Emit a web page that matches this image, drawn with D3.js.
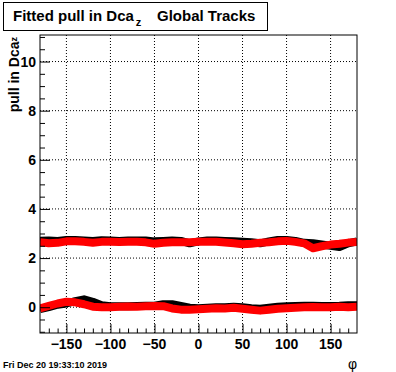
<!DOCTYPE html>
<meta charset="utf-8">
<body style="margin:0">
<script src="https://d3js.org/d3.v7.min.js"></script>
<script>

const phi = d3.range(-180, 181, 10);

const upperBlack = [2.70, 2.72, 2.70, 2.74, 2.74, 2.72, 2.70, 2.73, 2.72, 2.70, 2.72, 2.72, 2.72, 2.68, 2.70, 2.72, 2.70, 2.60, 2.68,
                    2.72, 2.72, 2.70, 2.68, 2.66, 2.64, 2.60, 2.68, 2.74, 2.74, 2.70, 2.62, 2.60, 2.55, 2.50, 2.45, 2.60, 2.68];
const upperRed   = [2.65, 2.60, 2.62, 2.68, 2.68, 2.66, 2.62, 2.66, 2.66, 2.65, 2.66, 2.66, 2.64, 2.58, 2.62, 2.64, 2.64, 2.64, 2.66,
                    2.66, 2.66, 2.63, 2.60, 2.56, 2.58, 2.62, 2.64, 2.68, 2.70, 2.66, 2.60, 2.40, 2.48, 2.55, 2.58, 2.63, 2.65];
const lowerBlack = [-0.08, 0.00, 0.10, 0.15, 0.25, 0.32, 0.22, 0.08, 0.04, 0.04, 0.04, 0.05, 0.06, 0.06, 0.12, 0.12, 0.05, -0.02, -0.04,
                    -0.02, 0.00, 0.00, 0.02, 0.00, -0.04, -0.06, -0.02, 0.02, 0.04, 0.05, 0.06, 0.06, 0.05, 0.05, 0.06, 0.08, 0.08];
const lowerRed   = [-0.05, 0.05, 0.15, 0.22, 0.20, 0.12, 0.02, 0.00, 0.00, 0.02, 0.03, 0.02, 0.04, 0.05, 0.04, -0.05, -0.10, -0.10, -0.08,
                    -0.06, -0.04, -0.05, -0.02, -0.06, -0.10, -0.14, -0.10, -0.06, -0.04, -0.02, 0.00, 0.01, 0.00, 0.00, 0.02, 0.00, 0.02];

const xMajor = [-150, -100, -50, 0, 50, 100, 150];
const yMajor = [0, 2, 4, 6, 8, 10];

const W = 396, H = 372;
const margin = {top: 35, right: 39, bottom: 39, left: 40},
    width = W - margin.left - margin.right,
    height = H - margin.top - margin.bottom;

const x = d3.scaleLinear().domain([-180, 180]).range([0, width]);
const y = d3.scaleLinear().domain([-1.05, 11.08]).range([height, 0]);

const svg = d3.select("body").append("svg")
    .attr("width", W)
    .attr("height", H)
    .style("font-family", "Liberation Sans, Arial, sans-serif");

svg.append("rect").attr("width", W).attr("height", H).attr("fill", "#fff");

const g = svg.append("g")
    .attr("transform", `translate(${margin.left},${margin.top})`);

g.append("clipPath").attr("id", "clip")
  .append("rect").attr("width", width).attr("height", height);

// grid
g.append("g").selectAll("line")
  .data(xMajor).join("line")
    .attr("x1", d => x(d)).attr("x2", d => x(d))
    .attr("y1", 0).attr("y2", height)
    .attr("stroke", "#000").attr("stroke-dasharray", "1,2");

g.append("g").selectAll("line")
  .data(yMajor).join("line")
    .attr("y1", d => y(d)).attr("y2", d => y(d))
    .attr("x1", 0).attr("x2", width)
    .attr("stroke", "#000").attr("stroke-dasharray", "1,2");

// data bands
const line = d3.line().x((d, i) => x(phi[i])).y(d => y(d));
const series = [[upperBlack, "#000"], [lowerBlack, "#000"], [upperRed, "#f00"], [lowerRed, "#f00"]];
g.append("g").attr("clip-path", "url(#clip)")
  .selectAll("path")
  .data(series).join("path")
    .attr("d", d => line(d[0]))
    .attr("fill", "none")
    .attr("stroke", d => d[1])
    .attr("stroke-width", 8)
    .attr("stroke-linejoin", "round");

// axes
const xAxis = d3.axisTop(x).tickValues(d3.range(-170, 180, 10)).tickSize(4.5).tickFormat("");
g.append("g").attr("transform", `translate(0,${height})`).call(xAxis)
  .call(a => a.select(".domain").remove())
  .selectAll(".tick line").filter(d => d % 50 === 0).attr("y2", -9);

g.append("g").attr("transform", `translate(0,${height})`).selectAll("text")
  .data(xMajor).join("text")
    .attr("x", d => x(d)).attr("y", 16)
    .attr("text-anchor", "middle")
    .style("font-size", "14px").style("font-weight", "bold")
    .text(d => d < 0 ? "\u2212" + (-d) : d);

const yAxis = d3.axisRight(y).tickValues(d3.range(-1, 11.01, 0.5)).tickSize(5).tickFormat("");
g.append("g").call(yAxis)
  .call(a => a.select(".domain").remove())
  .selectAll(".tick line").filter(d => d % 2 === 0).attr("x2", 10);

g.append("g").selectAll("text")
  .data(yMajor).join("text")
    .attr("x", -4).attr("y", d => y(d)).attr("dy", "0.36em")
    .attr("text-anchor", "end")
    .style("font-size", "14px").style("font-weight", "bold")
    .text(d => d);

g.append("rect").attr("width", width).attr("height", height)
  .attr("fill", "none").attr("stroke", "#000");

// y label
const yl = svg.append("text")
    .attr("transform", `translate(19,${margin.top + 2}) rotate(-90)`)
    .attr("text-anchor", "end")
    .style("font-size", "14px").style("font-weight", "bold");
yl.append("tspan").text("pull in Dca");
yl.append("tspan").attr("dy", -2).style("font-size", "9px").text("z");

// x label
svg.append("text").attr("x", 348).attr("y", 369)
  .style("font-size", "14px").text("\u03c6");

// title
svg.append("rect").attr("x", 3.5).attr("y", 2.5).attr("width", 264).attr("height", 28)
  .attr("fill", "#fff").attr("stroke", "#000");
const t = svg.append("text").attr("x", 13).attr("y", 21)
  .style("font-size", "15px").style("font-weight", "bold");
t.append("tspan").text("Fitted pull in Dca");
t.append("tspan").attr("dy", 5).attr("dx", 2).style("font-size", "11px").text("z");
t.append("tspan").attr("dy", -5).attr("x", 157).text("Global Tracks");

// date
svg.append("text").attr("x", 3).attr("y", 368)
  .style("font-size", "9px").style("font-weight", "bold")
  .text("Fri Dec 20 19:33:10 2019");

</script>
